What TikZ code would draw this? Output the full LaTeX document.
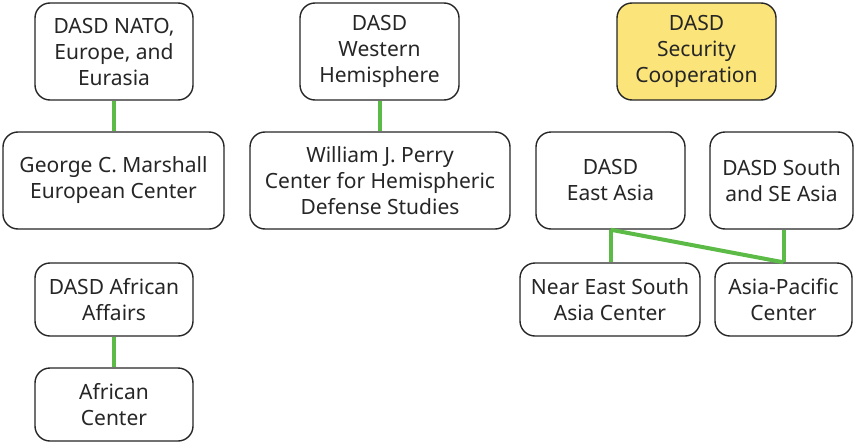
\documentclass[tikz,border=0pt]{standalone}
\usepackage{fontspec}
\setmainfont{Noto Sans}
\usetikzlibrary{arrows.meta}

\definecolor{linkgreen}{RGB}{92,187,70}
\definecolor{boxyellow}{RGB}{251,229,122}

\tikzset{
    box/.style={draw=black!85,line width=0.7pt,rounded corners=7.5pt,fill=white,
        align=center,inner sep=0pt,font=\fontsize{10.5}{13}\selectfont,text=black!85},
    hilite/.style={box,fill=boxyellow},
    link/.style={linkgreen,line width=2pt}
}

\begin{document}
\begin{tikzpicture}[x=0.5pt,y=-0.5pt]
        \useasboundingbox (0,0) rectangle (854,444);

        \coordinate (A) at (114,51.5);
        \coordinate (B) at (113.5,180.5);
        \coordinate (C) at (114,299.5);
        \coordinate (D) at (114,404.5);
        \coordinate (E) at (379.5,51.5);
        \coordinate (F) at (380,180.5);
        \coordinate (G) at (696.5,51.5);
        \coordinate (H) at (610.5,180.5);
        \coordinate (I) at (781.5,180.5);
        \coordinate (J) at (610,299.5);
        \coordinate (K) at (783.5,299.5);

        \node[box,minimum width=79pt,minimum height=48.5pt]  (nato)    at (A) {DASD NATO,\\Europe, and\\Eurasia};
        \node[box,minimum width=110.5pt,minimum height=48.5pt] (marsh) at (B) {George C. Marshall\\European Center};
        \node[box,minimum width=79pt,minimum height=36.5pt]  (afr)     at (C) {DASD African\\Affairs};
        \node[box,minimum width=79pt,minimum height=36.5pt]  (afrc)    at (D) {African\\Center};
        \node[box,minimum width=79.5pt,minimum height=48.5pt] (west)   at (E) {DASD\\Western\\Hemisphere};
        \node[box,minimum width=130pt,minimum height=48.5pt] (perry)   at (F) {William J. Perry\\Center for Hemispheric\\Defense Studies};
        \node[hilite,minimum width=79.5pt,minimum height=48.5pt] (sc)  at (G) {DASD\\Security\\Cooperation};
        \node[box,minimum width=74.5pt,minimum height=48.5pt] (east)   at (H) {DASD\\East Asia};
        \node[box,minimum width=71.5pt,minimum height=48.5pt] (south)  at (I) {DASD South\\and SE Asia};
        \node[box,minimum width=90pt,minimum height=36.5pt]  (nesa)    at (J) {Near East South\\Asia Center};
        \node[box,minimum width=68.5pt,minimum height=36.5pt] (apc)    at (K) {Asia-Pacific\\Center};

        \draw[link] (nato.south) -- (nato.south |- marsh.north);
        \draw[link] (west.south) -- (west.south |- perry.north);
        \draw[link] (afr.south) -- (afrc.north);
        \draw[link] (east.south) -- (east.south |- nesa.north);
        \draw[link] (apc.north |- south.south) -- (apc.north);
        \draw[link] (east.south) -- (apc.north);
    \end{tikzpicture}
\end{document}
